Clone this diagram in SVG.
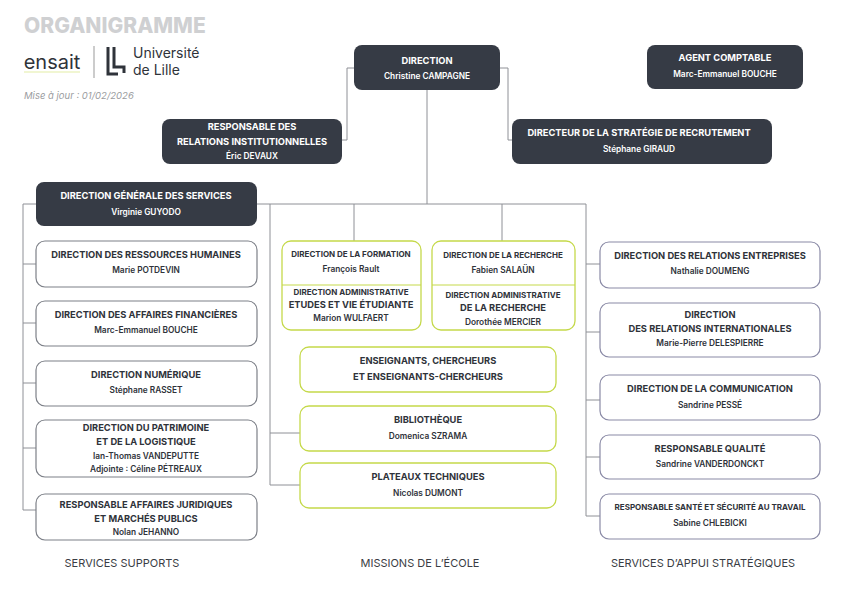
<svg xmlns="http://www.w3.org/2000/svg" width="842" height="595" viewBox="0 0 842 595">
<style>
text{font-family:Inter,"Liberation Sans",sans-serif;text-anchor:middle;}
.d{fill:#363b45;}
.w{fill:#fff;stroke:#8a8aa6;stroke-width:1.2;}
.wl{fill:#fff;stroke:#7d8088;stroke-width:1.2;}
.g{fill:#fff;stroke:#c5d94a;stroke-width:1.3;}
.tw{fill:#fff;font-weight:700;font-size:9.3px;}
.sw{fill:#fff;font-weight:600;font-size:8.3px;}
.tb{fill:#2f333a;font-weight:700;font-size:9.3px;}
.sb{fill:#2f333a;font-weight:600;font-size:8.3px;}
.c{fill:none;stroke:#8e9096;stroke-width:1;}
.f{fill:#3a3d44;font-size:11px;}
</style>
<rect width="842" height="595" fill="#fff"/>
<g id="header">
<text x="24" y="33" style="font-size:21px;font-weight:800;fill:#cfd0d2;text-anchor:start">ORGANIGRAMME</text>
<text x="52" y="69" style="font-size:20px;fill:#2f333a">ensait</text>
<line x1="24" y1="72" x2="80" y2="72" stroke="#c5d94a" stroke-width="0.5"/>
<line x1="94" y1="46" x2="94" y2="78" stroke="#999"/>
<path d="M108 47v27h10M114 47v20h10v6" fill="none" stroke="#2f333a" stroke-width="3"/>
<text x="133" y="58" style="font-size:14px;fill:#2f333a;text-anchor:start">Université</text>
<text x="133" y="75" style="font-size:14px;fill:#2f333a;text-anchor:start">de Lille</text>
<text x="24" y="99" style="font-size:9.5px;font-style:italic;fill:#9a9ca0;text-anchor:start">Mise à jour : 01/02/2026</text>
</g>
<g id="connectors" class="c">
<path d="M354 68H347V140H342M500 68H508V140H512"/>
<path d="M427 90V204M23 204H586M23 204V510M586 204V516M270 204V485M354 204V241M502 204V241"/>
<path d="M23 264H36M23 323H36M23 383H36M23 448H36M23 510H36"/>
<path d="M586 264H600M586 332H600M586 400H600M586 457H600M586 516H600"/>
<path d="M270 433H300M270 485H300"/>
</g>
<g id="direction"><rect class="d" x="354" y="45" width="146" height="45" rx="8"/><text class="tw" x="427" y="64">DIRECTION</text><text class="sw" x="427" y="79">Christine CAMPAGNE</text></g>
<g id="agent"><rect class="d" x="647" y="45" width="156" height="44" rx="8"/><text class="tw" x="725" y="61">AGENT COMPTABLE</text><text class="sw" x="725" y="77">Marc-Emmanuel BOUCHE</text></g>
<g id="relinst"><rect class="d" x="162" y="119" width="180" height="45" rx="8"/><text class="tw" x="252" y="130">RESPONSABLE DES</text><text class="tw" x="252" y="145">RELATIONS INSTITUTIONNELLES</text><text class="sw" x="252" y="159">Éric DEVAUX</text></g>
<g id="strategie"><rect class="d" x="512" y="119" width="260" height="45" rx="8"/><text class="tw" x="639" y="136">DIRECTEUR DE LA STRATÉGIE DE RECRUTEMENT</text><text class="sw" x="639" y="152">Stéphane GIRAUD</text></g>
<g id="dgs"><rect class="d" x="36" y="182" width="221" height="44" rx="8"/><text class="tw" x="146" y="199">DIRECTION GÉNÉRALE DES SERVICES</text><text class="sw" x="146" y="215">Virginie GUYODO</text></g>
<g id="rh"><rect class="wl" x="36" y="241" width="221" height="46" rx="9"/><text class="tb" x="146" y="258">DIRECTION DES RESSOURCES HUMAINES</text><text class="sb" x="146" y="273">Marie POTDEVIN</text></g>
<g id="af"><rect class="wl" x="36" y="301" width="221" height="45" rx="9"/><text class="tb" x="146" y="318">DIRECTION DES AFFAIRES FINANCIÈRES</text><text class="sb" x="146" y="333">Marc-Emmanuel BOUCHE</text></g>
<g id="num"><rect class="wl" x="36" y="361" width="221" height="45" rx="9"/><text class="tb" x="146" y="378">DIRECTION NUMÉRIQUE</text><text class="sb" x="146" y="393">Stéphane RASSET</text></g>
<g id="patr"><rect class="wl" x="36" y="420" width="221" height="57" rx="9"/><text class="tb" x="146" y="431">DIRECTION DU PATRIMOINE</text><text class="tb" x="146" y="445">ET DE LA LOGISTIQUE</text><text class="sb" x="146" y="459">Ian-Thomas VANDEPUTTE</text><text class="sb" x="146" y="472">Adjointe : Céline PÉTREAUX</text></g>
<g id="jur"><rect class="wl" x="36" y="494" width="221" height="46" rx="9"/><text class="tb" x="146" y="508">RESPONSABLE AFFAIRES JURIDIQUES</text><text class="tb" x="146" y="522">ET MARCHÉS PUBLICS</text><text class="sb" x="146" y="535">Nolan JEHANNO</text></g>
<g id="formation"><rect class="g" x="282" y="241" width="139" height="89" rx="9"/><line x1="282" y1="285" x2="421" y2="285" stroke="#c5d94a"/><text class="tb" x="351" y="257" style="font-size:8px">DIRECTION DE LA FORMATION</text><text class="sb" x="351" y="272">François Rault</text><text class="tb" x="351" y="295" style="font-size:8px">DIRECTION ADMINISTRATIVE</text><text class="tb" x="351" y="308">ETUDES ET VIE ÉTUDIANTE</text><text class="sb" x="351" y="321">Marion WULFAERT</text></g>
<g id="recherche"><rect class="g" x="432" y="241" width="143" height="89" rx="9"/><line x1="432" y1="285" x2="575" y2="285" stroke="#c5d94a"/><text class="tb" x="503" y="258" style="font-size:8px">DIRECTION DE LA RECHERCHE</text><text class="sb" x="503" y="273">Fabien SALAÜN</text><text class="tb" x="503" y="298" style="font-size:8px">DIRECTION ADMINISTRATIVE</text><text class="tb" x="503" y="311">DE LA RECHERCHE</text><text class="sb" x="503" y="325">Dorothée MERCIER</text></g>
<g id="ens"><rect class="g" x="300" y="347" width="256" height="45" rx="9"/><text class="tb" x="428" y="364">ENSEIGNANTS, CHERCHEURS</text><text class="tb" x="428" y="380">ET ENSEIGNANTS-CHERCHEURS</text></g>
<g id="biblio"><rect class="g" x="300" y="406" width="256" height="45" rx="9"/><text class="tb" x="428" y="423">BIBLIOTHÈQUE</text><text class="sb" x="428" y="439">Domenica SZRAMA</text></g>
<g id="plateaux"><rect class="g" x="300" y="463" width="256" height="45" rx="9"/><text class="tb" x="428" y="480">PLATEAUX TECHNIQUES</text><text class="sb" x="428" y="496">Nicolas DUMONT</text></g>
<g id="entreprises"><rect class="w" x="600" y="242" width="220" height="46" rx="9"/><text class="tb" x="710" y="259">DIRECTION DES RELATIONS ENTREPRISES</text><text class="sb" x="710" y="274">Nathalie DOUMENG</text></g>
<g id="inter"><rect class="w" x="600" y="303" width="220" height="54" rx="9"/><text class="tb" x="710" y="318">DIRECTION</text><text class="tb" x="710" y="332">DES RELATIONS INTERNATIONALES</text><text class="sb" x="710" y="346">Marie-Pierre DELESPIERRE</text></g>
<g id="comm"><rect class="w" x="600" y="375" width="220" height="45" rx="9"/><text class="tb" x="710" y="392">DIRECTION DE LA COMMUNICATION</text><text class="sb" x="710" y="408">Sandrine PESSÉ</text></g>
<g id="qualite"><rect class="w" x="600" y="435" width="220" height="44" rx="9"/><text class="tb" x="710" y="452">RESPONSABLE QUALITÉ</text><text class="sb" x="710" y="467">Sandrine VANDERDONCKT</text></g>
<g id="sante"><rect class="w" x="600" y="494" width="220" height="45" rx="9"/><text class="tb" x="710" y="510" style="font-size:8px">RESPONSABLE SANTÉ ET SÉCURITÉ AU TRAVAIL</text><text class="sb" x="710" y="526">Sabine CHLEBICKI</text></g>
<g id="footer"><text class="f" x="122" y="567">SERVICES SUPPORTS</text><text class="f" x="420" y="567">MISSIONS DE L’ÉCOLE</text><text class="f" x="703" y="567">SERVICES D’APPUI STRATÉGIQUES</text></g>
</svg>
